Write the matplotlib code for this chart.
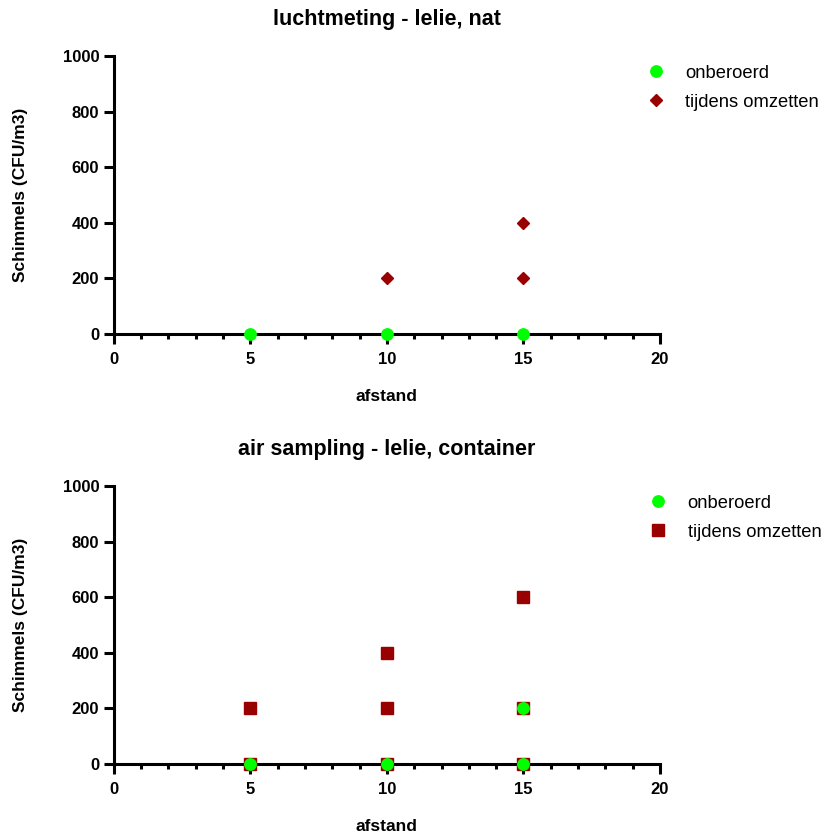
import matplotlib
matplotlib.use("Agg")
import matplotlib.pyplot as plt
from matplotlib.ticker import MultipleLocator

plt.rcParams['font.family'] = ['Liberation Sans', 'DejaVu Sans']

# top chart data
top_title = "luchtmeting - lelie, nat"
top_onb_x = [5, 10, 15]
top_onb_y = [0, 0, 0]
top_omz_x = [10, 15, 15]
top_omz_y = [200, 200, 400]

# bottom chart data
bot_title = "air sampling - lelie, container"
bot_onb_x = [5, 10, 15, 15]
bot_onb_y = [0, 0, 0, 200]
bot_omz_x = [5, 5, 10, 10, 10, 15, 15, 15]
bot_omz_y = [0, 200, 0, 200, 400, 0, 200, 600]

labels = ["onberoerd", "tijdens omzetten"]
xticks = [0, 5, 10, 15, 20]
yticks = [0, 200, 400, 600, 800, 1000]

GREEN = "#00ff00"
RED = "#990000"

fig = plt.figure(figsize=(8.25, 8.34), dpi=100)

def style(ax, title, leg_x):
    ax.set_xlim(0, 20)
    ax.set_ylim(0, 1000)
    ax.set_xticks(xticks)
    ax.set_yticks(yticks)
    ax.xaxis.set_minor_locator(MultipleLocator(1))
    for s in ['top', 'right']:
        ax.spines[s].set_visible(False)
    for s in ['left', 'bottom']:
        ax.spines[s].set_linewidth(2.2)
    ax.tick_params(axis='both', which='major', length=7.5, width=2.2, labelsize=12, pad=3)
    ax.tick_params(axis='x', which='major', pad=5.5)
    ax.tick_params(axis='x', which='minor', length=3.5, width=2.2)
    for lab in ax.get_xticklabels() + ax.get_yticklabels():
        lab.set_fontweight('bold')
    ax.set_title(title, fontsize=15.5, fontweight='bold', pad=22)
    ax.set_xlabel("afstand", fontsize=12.5, fontweight='bold', labelpad=16)
    ax.set_ylabel("Schimmels (CFU/m3)", fontsize=12.5, fontweight='bold', labelpad=25)
    hh, ll = ax.get_legend_handles_labels()
    ax.legend([hh[1], hh[0]], [ll[1], ll[0]], loc='upper left', bbox_to_anchor=(leg_x, 0.995),
              frameon=False, fontsize=13.2, handletextpad=0.9, labelspacing=0.65,
              borderaxespad=0, handlelength=1.4)

ax1 = fig.add_axes([0.138, 0.5995, 0.662, 0.3335])
ax1.plot(top_omz_x, top_omz_y, linestyle='none', marker='D', color=RED, markersize=6.5,
         label=labels[1], clip_on=False, zorder=3)
ax1.plot(top_onb_x, top_onb_y, linestyle='none', marker='o', color=GREEN, markersize=8.2,
         label=labels[0], clip_on=False, zorder=4)
style(ax1, top_title, 0.955)

ax2 = fig.add_axes([0.138, 0.0839, 0.662, 0.3335])
ax2.plot(bot_omz_x, bot_omz_y, linestyle='none', marker='s', color=RED, markersize=8.8,
         label=labels[1], clip_on=False, zorder=3)
ax2.plot(bot_onb_x, bot_onb_y, linestyle='none', marker='o', color=GREEN, markersize=8.2,
         label=labels[0], clip_on=False, zorder=4)
style(ax2, bot_title, 0.96)

fig.savefig("out.png", dpi=100)
